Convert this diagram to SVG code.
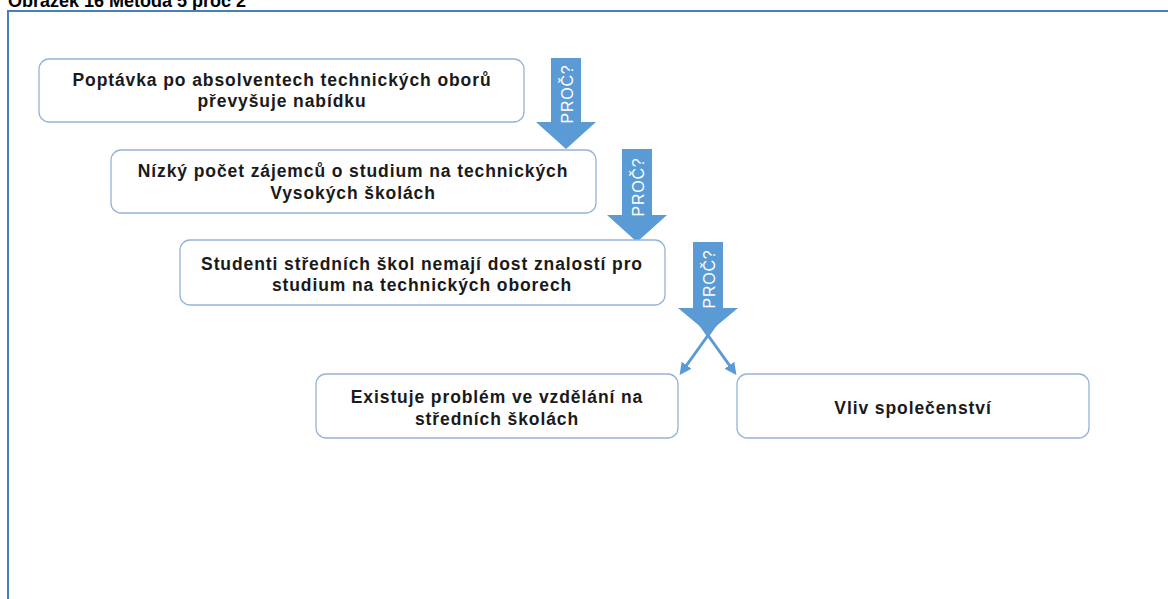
<svg xmlns="http://www.w3.org/2000/svg" width="1168" height="599" viewBox="0 0 1168 599">
  <style>
    .title { font-family: "Liberation Sans", Arial, sans-serif; font-weight: bold; font-size: 18px; fill: #000; }
    .box { fill: #ffffff; stroke: #95b3d7; stroke-width: 1.3; }
    .label { font-family: "Liberation Sans", Arial, sans-serif; font-weight: bold; font-size: 17.5px; letter-spacing: 0.9px; fill: #1a1a1a; text-anchor: middle; }
    .why { fill: #5b9bd5; }
    .whytext { font-family: "Liberation Sans", Arial, sans-serif; font-size: 16px; letter-spacing: 0.8px; fill: #ffffff; text-anchor: middle; dominant-baseline: central; }
    .split { stroke: #5b9bd5; stroke-width: 3; fill: none; marker-end: url(#head); }
  </style>
  <defs>
    <marker id="head" viewBox="0 0 10 10" refX="8" refY="5" markerWidth="4" markerHeight="4" orient="auto" markerUnits="strokeWidth">
      <path d="M0,0 L10,5 L0,10 z" fill="#5b9bd5"/>
    </marker>
  </defs>

  <rect width="1168" height="599" fill="#ffffff"/>
  <text class="title" x="8" y="7">Obrázek 16 Metoda 5 proč 2</text>
  <rect x="8" y="11" width="1200" height="700" fill="none" stroke="#4a7ebb" stroke-width="2"/>

  <g id="connectors">
    <polygon class="why" points="551,58 581,58 581,122 596,122 566,149 536,122 551,122"/>
    <text class="whytext" transform="translate(567,94) rotate(-90)">PROČ?</text>
    <polygon class="why" points="622,149 652,149 652,215 667,215 637,242 607,215 622,215"/>
    <text class="whytext" transform="translate(638,187) rotate(-90)">PROČ?</text>
    <polygon class="why" points="693,242 723,242 723,308 738,308 708,333 678,308 693,308"/>
    <text class="whytext" transform="translate(709,279) rotate(-90)">PROČ?</text>
    <line class="split" x1="719" y1="320" x2="681" y2="373"/>
    <line class="split" x1="697" y1="320" x2="735" y2="373"/>
  </g>

  <g id="node1">
    <rect class="box" x="39" y="59" width="485" height="63" rx="10"/>
    <text class="label" x="282" y="86">Poptávka po absolventech technických oborů</text>
    <text class="label" x="282" y="107">převyšuje nabídku</text>
  </g>
  <g id="node2">
    <rect class="box" x="111" y="150" width="485" height="63" rx="10"/>
    <text class="label" x="353" y="177">Nízký počet zájemců o studium na technických</text>
    <text class="label" x="353" y="199">Vysokých školách</text>
  </g>
  <g id="node3">
    <rect class="box" x="180" y="240" width="485" height="65" rx="10"/>
    <text class="label" x="422" y="270">Studenti středních škol nemají dost znalostí pro</text>
    <text class="label" x="422" y="291">studium na technických oborech</text>
  </g>
  <g id="node4">
    <rect class="box" x="316" y="374" width="362" height="64" rx="10"/>
    <text class="label" x="497" y="403">Existuje problém ve vzdělání na</text>
    <text class="label" x="497" y="425">středních školách</text>
  </g>
  <g id="node5">
    <rect class="box" x="737" y="374" width="352" height="64" rx="10"/>
    <text class="label" x="913" y="414">Vliv společenství</text>
  </g>
</svg>
